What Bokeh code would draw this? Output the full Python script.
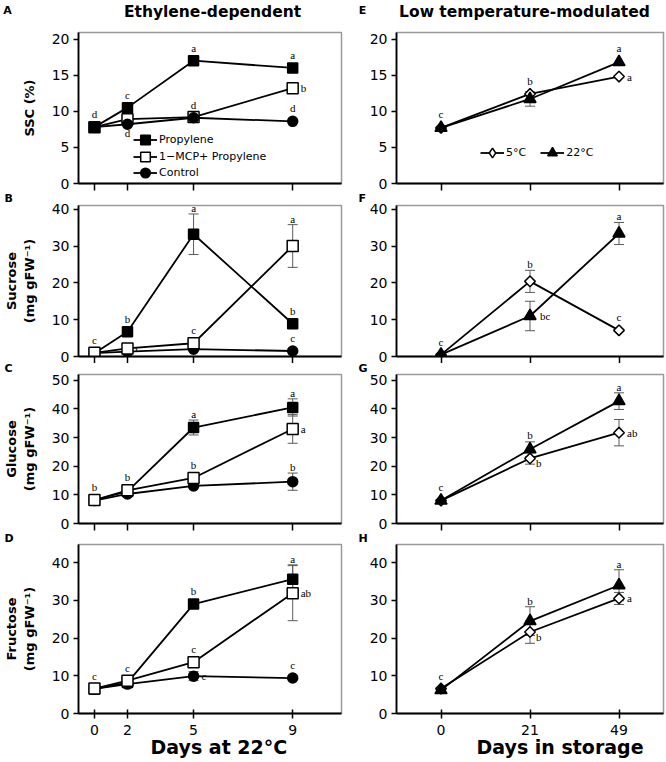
import math
from bokeh.plotting import figure
from bokeh.layouts import gridplot, column
from bokeh.models import (ColumnDataSource, Whisker, TeeHead, Legend, LegendItem, Title,
                          LabelSet, FixedTicker, Range1d, FactorRange, CustomLabelingPolicy)
from bokeh.core.properties import value
from bokeh.embed import file_html
from bokeh.resources import INLINE

FONT = "DejaVu Sans"

# ---------------- data ----------------
# time axis of the ethylene experiment (positions as read from the picture) and its tick labels
day_pos = [0, 1.5, 4.5, 9]
day_labels = ["0", "2", "5", "9"]
storage_days = ["0", "21", "49"]

# SSC (%)
ssc_prop = [7.8, 10.5, 17.0, 16.0]
ssc_prop_err = [0.2, 0.3, 0.3, 0.6]
ssc_prop_sig = ["d", "c", "a", "a"]
ssc_mcp = [7.8, 8.9, 9.2, 13.2]
ssc_mcp_err = [0.2, 0.3, 0.3, 0.4]
ssc_mcp_sig = ["", "d", "", "b"]
ssc_ctrl = [7.8, 8.2, 9.1, 8.6]
ssc_ctrl_err = [0.2, 0.2, 0.3, 0.3]
ssc_ctrl_sig = ["", "", "d", "d"]

# Sucrose (mg gFW-1)
suc_prop = [0.9, 6.7, 33.2, 8.9]
suc_prop_err = [0.2, 0.5, 5.5, 0.8]
suc_prop_sig = ["", "b", "a", "b"]
suc_mcp = [1.0, 2.2, 3.6, 30.0]
suc_mcp_err = [0.2, 0.4, 0.6, 5.8]
suc_mcp_sig = ["c", "c", "c", "a"]
suc_ctrl = [0.9, 1.3, 2.0, 1.5]
suc_ctrl_err = [0.1, 0.2, 0.3, 0.3]
suc_ctrl_sig = ["", "", "", "c"]

# Glucose (mg gFW-1)
glu_prop = [8.2, 11.2, 33.5, 40.5]
glu_prop_err = [0.4, 0.5, 2.6, 3.0]
glu_prop_sig = ["", "", "a", "a"]
glu_mcp = [8.2, 11.6, 15.9, 33.0]
glu_mcp_err = [0.4, 0.6, 1.0, 5.0]
glu_mcp_sig = ["b", "b", "b", "a"]
glu_ctrl = [8.0, 10.3, 13.1, 14.6]
glu_ctrl_err = [0.3, 0.4, 0.8, 3.0]
glu_ctrl_sig = ["", "", "", "b"]

# Fructose (mg gFW-1)
fru_prop = [6.5, 8.2, 29.0, 35.6]
fru_prop_err = [0.3, 0.4, 1.0, 3.8]
fru_prop_sig = ["", "", "b", "a"]
fru_mcp = [6.6, 8.7, 13.6, 31.9]
fru_mcp_err = [0.3, 0.4, 1.0, 7.3]
fru_mcp_sig = ["c", "c", "c", "ab"]
fru_ctrl = [6.5, 7.8, 9.9, 9.4]
fru_ctrl_err = [0.3, 0.3, 1.2, 0.8]
fru_ctrl_sig = ["", "", "c", "c"]

# Low temperature: 5 °C and 22 °C storage
ssc_5 = [7.7, 12.4, 14.8]
ssc_5_err = [0.2, 0.4, 0.4]
ssc_5_sig = ["", "b", "a"]
ssc_22 = [7.7, 11.7, 16.8]
ssc_22_err = [0.2, 1.0, 0.5]
ssc_22_sig = ["c", "", "a"]

suc_5 = [0.5, 20.4, 7.1]
suc_5_err = [0.1, 3.0, 1.0]
suc_5_sig = ["c", "b", "c"]
suc_22 = [0.5, 11.0, 33.4]
suc_22_err = [0.1, 4.0, 3.0]
suc_22_sig = ["", "bc", "a"]

glu_5 = [8.0, 22.7, 31.7]
glu_5_err = [0.3, 2.0, 4.6]
glu_5_sig = ["", "b", "ab"]
glu_22 = [8.0, 25.9, 42.7]
glu_22_err = [0.3, 2.6, 2.9]
glu_22_sig = ["c", "b", "a"]

fru_5 = [6.6, 21.6, 30.5]
fru_5_err = [0.4, 3.0, 1.6]
fru_5_sig = ["", "b", "a"]
fru_22 = [6.2, 24.5, 34.0]
fru_22_err = [1.0, 3.8, 4.1]
fru_22_sig = ["c", "b", "a"]

# where each significance letter sits relative to its point
ssc_prop_at = ["up", "up", "up", "up"]
ssc_mcp_at = ["", "down", "", "right"]
ssc_ctrl_at = ["", "", "up", "up"]
suc_prop_at = ["", "up", "up", "up"]
suc_mcp_at = ["up", "right", "up", "up"]
suc_ctrl_at = ["", "", "", "up"]
glu_prop_at = ["", "", "up", "up"]
glu_mcp_at = ["up", "up", "up", "right"]
glu_ctrl_at = ["", "", "", "up"]
fru_prop_at = ["", "", "up", "up"]
fru_mcp_at = ["up", "up", "up", "right"]
fru_ctrl_at = ["", "", "right", "up"]
ssc_5_at = ["", "up", "right"]
ssc_22_at = ["up", "", "up"]
suc_5_at = ["up", "up", "up"]
suc_22_at = ["", "right", "up"]
glu_5_at = ["", "rdown", "right"]
glu_22_at = ["up", "up", "up"]
fru_5_at = ["", "rdown", "right"]
fru_22_at = ["up", "up", "up"]

panel_titles = ["Ethylene-dependent", "Low temperature-modulated"]
panel_letters_left = ["A", "B", "C", "D"]
panel_letters_right = ["E", "F", "G", "H"]
x_titles = ["Days at 22\u00b0C", "Days in storage"]

# ---------------- styles / layout ----------------
STYLE = {
    "Propylene": dict(marker="square", size=10, fill="black", angle=0.0, top=9),
    "1\u2212MCP+ Propylene": dict(marker="square", size=11, fill="white", angle=0.0, top=9),
    "Control": dict(marker="circle", size=10, fill="black", angle=0.0, top=9),
    "5\u00b0C": dict(marker="square", size=7.5, fill="white", angle=math.pi / 4, top=9),
    "22\u00b0C": dict(marker="triangle", size=12, fill="black", angle=0.0, top=10),
}

HEADER_H = 24
ROWS = [
    dict(height=167, top=8, bottom=8, frame_h=151, yend=20.9, yticks=[0, 5, 10, 15, 20], lstand=None),
    dict(height=172, top=14, bottom=7, frame_h=151, yend=41.0, yticks=[0, 10, 20, 30, 40], lstand=-2),
    dict(height=170, top=11, bottom=10, frame_h=149, yend=52.0, yticks=[0, 10, 20, 30, 40, 50], lstand=-4),
    dict(height=229, top=11, bottom=49, frame_h=169, yend=44.8, yticks=[0, 10, 20, 30, 40], lstand=-5),
]
COLS = [
    dict(width=350, left=77, right=9, letter_offset=-74, xtitle_offset=72),
    dict(width=316, left=46, right=3, letter_offset=-38, xtitle_offset=80),
]

LEFT_X = (-0.724, 11.216)   # so that day 0 and day 9 fall where they are in the picture
NO_LABELS = "for (const i of indices) { indices.unset(i) }\nreturn indices"


def make_fig(ri, ci):
    r, c = ROWS[ri], COLS[ci]
    xr = Range1d(*LEFT_X) if ci == 0 else FactorRange(factors=storage_days, range_padding=0)
    p = figure(width=c["width"], height=r["height"], x_range=xr, y_range=Range1d(0, r["yend"]),
               output_backend="svg", toolbar_location=None, tools="",
               min_border_left=c["left"], min_border_right=c["right"],
               min_border_top=r["top"], min_border_bottom=r["bottom"])
    p.background_fill_color = "white"
    p.border_fill_color = "white"
    p.outline_line_color = "#9a9a9a"
    p.outline_line_width = 1.5
    p.xgrid.visible = False
    p.ygrid.visible = False
    p.yaxis.ticker = FixedTicker(ticks=r["yticks"])
    if ci == 0:
        p.xaxis.ticker = FixedTicker(ticks=day_pos)
        p.xaxis.major_label_overrides = {float(v): lab for v, lab in zip(day_pos, day_labels)}
    for ax in (p.xaxis[0], p.yaxis[0]):
        ax.axis_line_color = "black"
        ax.axis_line_width = 1.8
        ax.major_tick_line_color = "black"
        ax.major_tick_line_width = 1.5
        ax.minor_tick_line_color = None
        ax.major_label_text_font = FONT
        ax.major_label_text_font_size = "14px"
        ax.major_label_text_color = "black"
    p.yaxis.major_tick_in = 0
    p.yaxis.major_tick_out = 5
    p.yaxis.major_label_standoff = 4
    if ri == 3:
        p.xaxis.major_tick_in = 4
        p.xaxis.major_tick_out = 5
        p.xaxis.major_label_standoff = 6
        p.add_layout(Title(text=x_titles[ci], align="left", offset=c["xtitle_offset"], standoff=-3,
                           vertical_align="top", text_font=FONT, text_font_size="19px",
                           text_font_style="bold", text_color="black"), "below")
    else:
        # tick marks only: no tick labels drawn and no room kept for them
        p.xaxis.major_tick_in = 0
        p.xaxis.major_tick_out = 7
        p.xaxis.major_label_standoff = 0
        p.xaxis.major_label_text_font_size = "0px"
        p.xaxis.major_label_policy = CustomLabelingPolicy(code=NO_LABELS)
    if r["lstand"] is not None:
        letter = (panel_letters_left if ci == 0 else panel_letters_right)[ri]
        p.add_layout(Title(text=letter, align="left", offset=c["letter_offset"], standoff=r["lstand"],
                           vertical_align="top", text_font=FONT, text_font_size="11px",
                           text_font_style="bold", text_color="black"), "above")
    return p


def add_series(p, ri, x, y, err, sig, at, name):
    st = STYLE[name]
    r = ROWS[ri]
    ppu = r["frame_h"] / r["yend"]
    ln = p.line(x, y, line_color="black", line_width=1.8)
    sc = p.scatter(x, y, marker=st["marker"], size=st["size"], angle=st["angle"],
                   fill_color=st["fill"], line_color="black", line_width=1.5)
    keep = [i for i, e in enumerate(err) if e * ppu > 4]
    if keep:
        src = ColumnDataSource(dict(x=[x[i] for i in keep],
                                    lo=[y[i] - err[i] for i in keep],
                                    hi=[y[i] + err[i] for i in keep]))
        p.add_layout(Whisker(source=src, base="x", lower="lo", upper="hi", dimension="height",
                             line_color="#5a5a5a", line_width=1,
                             upper_head=TeeHead(size=10, line_color="#5a5a5a", line_width=1),
                             lower_head=TeeHead(size=10, line_color="#5a5a5a", line_width=1)))
    groups = {}
    for i, (s, w) in enumerate(zip(sig, at)):
        if not s:
            continue
        g = groups.setdefault(w, dict(x=[], y=[], text=[], xo=[], yo=[]))
        g["x"].append(x[i])
        g["y"].append(y[i])
        g["text"].append(s)
        e_px = err[i] * ppu if err[i] * ppu > 4 else 0
        if w == "up":
            g["xo"].append(0)
            g["yo"].append(max(e_px + 2, st["top"]))
        elif w == "down":
            g["xo"].append(0)
            g["yo"].append(-8)
        elif w == "right":
            g["xo"].append(8 if st["marker"] != "triangle" else 10)
            g["yo"].append(0)
        elif w == "rdown":
            g["xo"].append(6)
            g["yo"].append(-5)
    spec = {"up": ("center", "alphabetic"), "down": ("center", "top"),
            "right": ("left", "middle"), "rdown": ("left", "middle")}
    for w, g in groups.items():
        al, bl = spec[w]
        p.add_layout(LabelSet(x="x", y="y", text="text", x_offset="xo", y_offset="yo",
                              source=ColumnDataSource(g), text_font=FONT, text_font_size="11px",
                              text_color="black", text_align=al, text_baseline=bl))
    return ln, sc


def legend_box(items, loc, orientation="vertical", spacing=0):
    return Legend(items=items, location=loc, orientation=orientation,
                  glyph_width=24, glyph_height=25, spacing=spacing, padding=0, margin=0,
                  label_standoff=2, label_text_font=FONT, label_text_font_size="11px",
                  label_text_color="black", border_line_alpha=0, background_fill_alpha=0,
                  inactive_fill_alpha=0)


left_names = ["Propylene", "1\u2212MCP+ Propylene", "Control"]
left_data = [
    dict(label="SSC (%)", s={"Propylene": (ssc_prop, ssc_prop_err, ssc_prop_sig, ssc_prop_at),
                             "1\u2212MCP+ Propylene": (ssc_mcp, ssc_mcp_err, ssc_mcp_sig, ssc_mcp_at),
                             "Control": (ssc_ctrl, ssc_ctrl_err, ssc_ctrl_sig, ssc_ctrl_at)},
         order=["1\u2212MCP+ Propylene", "Control", "Propylene"]),
    dict(label="Sucrose\n(mg gFW\u207b\u00b9)",
         s={"Propylene": (suc_prop, suc_prop_err, suc_prop_sig, suc_prop_at),
            "1\u2212MCP+ Propylene": (suc_mcp, suc_mcp_err, suc_mcp_sig, suc_mcp_at),
            "Control": (suc_ctrl, suc_ctrl_err, suc_ctrl_sig, suc_ctrl_at)},
         order=["Control", "Propylene", "1\u2212MCP+ Propylene"]),
    dict(label="Glucose\n(mg gFW\u207b\u00b9)",
         s={"Propylene": (glu_prop, glu_prop_err, glu_prop_sig, glu_prop_at),
            "1\u2212MCP+ Propylene": (glu_mcp, glu_mcp_err, glu_mcp_sig, glu_mcp_at),
            "Control": (glu_ctrl, glu_ctrl_err, glu_ctrl_sig, glu_ctrl_at)},
         order=["Control", "Propylene", "1\u2212MCP+ Propylene"]),
    dict(label="Fructose\n(mg gFW\u207b\u00b9)",
         s={"Propylene": (fru_prop, fru_prop_err, fru_prop_sig, fru_prop_at),
            "1\u2212MCP+ Propylene": (fru_mcp, fru_mcp_err, fru_mcp_sig, fru_mcp_at),
            "Control": (fru_ctrl, fru_ctrl_err, fru_ctrl_sig, fru_ctrl_at)},
         order=["Control", "Propylene", "1\u2212MCP+ Propylene"]),
]
right_data = [
    {"5\u00b0C": (ssc_5, ssc_5_err, ssc_5_sig, ssc_5_at), "22\u00b0C": (ssc_22, ssc_22_err, ssc_22_sig, ssc_22_at)},
    {"5\u00b0C": (suc_5, suc_5_err, suc_5_sig, suc_5_at), "22\u00b0C": (suc_22, suc_22_err, suc_22_sig, suc_22_at)},
    {"5\u00b0C": (glu_5, glu_5_err, glu_5_sig, glu_5_at), "22\u00b0C": (glu_22, glu_22_err, glu_22_sig, glu_22_at)},
    {"5\u00b0C": (fru_5, fru_5_err, fru_5_sig, fru_5_at), "22\u00b0C": (fru_22, fru_22_err, fru_22_sig, fru_22_at)},
]
legend_rows_y = [31.5, 14.5, -1.5]   # legend row anchors above the frame bottom, px

# ---------------- header strip: panel titles and the first panel letters ----------------
header = figure(width=666, height=HEADER_H, x_range=Range1d(0, 666), y_range=Range1d(0, HEADER_H),
                output_backend="svg", toolbar_location=None, tools="", min_border=0,
                x_axis_location=None, y_axis_location=None)
header.outline_line_color = None
header.grid.visible = False
header.background_fill_color = "white"
header.border_fill_color = "white"
header.text(x=[212, 524], y=[12.5, 12.5], text=panel_titles, text_font=value(FONT),
            text_font_size="15.5px", text_font_style="bold", text_color="black",
            text_align="center", text_baseline="middle")
header.text(x=[7, 362], y=[14, 14], text=[panel_letters_left[0], panel_letters_right[0]],
            text_font=value(FONT), text_font_size="11px", text_font_style="bold",
            text_color="black", text_align="center", text_baseline="middle")

grid = []
for ri in range(4):
    # ---- left panel ----
    pl = make_fig(ri, 0)
    pl.yaxis.axis_label = left_data[ri]["label"]
    pl.yaxis.axis_label_text_font = FONT
    pl.yaxis.axis_label_text_font_size = "13px"
    pl.yaxis.axis_label_text_font_style = "bold"
    pl.yaxis.axis_label_text_color = "black"
    pl.yaxis.axis_label_standoff = 12
    rend = {}
    for name in left_data[ri]["order"]:
        y, e, s, a = left_data[ri]["s"][name]
        rend[name] = add_series(pl, ri, day_pos, y, e, s, a, name)
    if ri == 0:
        for n, ly in zip(left_names, legend_rows_y):
            pl.add_layout(legend_box([LegendItem(label=n, renderers=list(rend[n]))], (55, ly)))

    # ---- right panel ----
    pr = make_fig(ri, 1)
    rrend = {}
    for name in ["5\u00b0C", "22\u00b0C"]:
        y, e, s, a = right_data[ri][name]
        rrend[name] = add_series(pr, ri, storage_days, y, e, s, a, name)
    if ri == 0:
        # legend key for 5 °C: a hidden diamond copy of the series (the plotted marker is a turned square)
        key_diamond = pr.scatter(storage_days, ssc_5, marker="diamond", size=10, fill_color="white",
                                 line_color="black", line_width=1.5, visible=False)
        items = [LegendItem(label="5\u00b0C", renderers=[rrend["5\u00b0C"][0], key_diamond]),
                 LegendItem(label="22\u00b0C", renderers=list(rrend["22\u00b0C"]))]
        pr.add_layout(legend_box(items, (84, 18), orientation="horizontal", spacing=14))
    grid.append([pl, pr])

layout = column(header, gridplot(grid, toolbar_location=None), spacing=0)
open("out.html", "w").write(file_html(layout, INLINE))
